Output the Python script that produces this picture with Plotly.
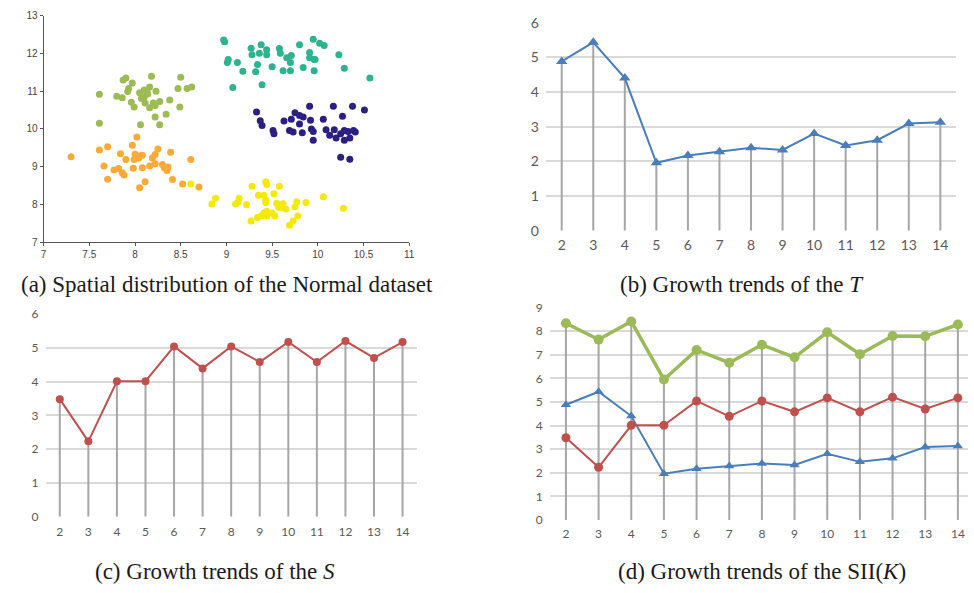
import plotly.graph_objects as go

# ---------------- data ----------------
# (a) scatter clusters
teal_x = [8.97, 8.98, 9.02, 9.01, 9.12, 9.07, 9.18, 9.27, 9.28, 9.38, 9.44, 9.36, 9.44, 9.34, 9.32, 9.39,
          9.50, 9.58, 9.59, 9.62, 9.70, 9.66, 9.71, 9.70, 9.80, 9.84, 9.91, 9.91, 9.96, 9.97, 9.95, 10.02,
          10.07, 9.96, 10.23, 10.29, 10.57]
teal_y = [12.36, 12.31, 11.84, 11.76, 11.76, 11.10, 11.53, 12.14, 11.97, 12.23, 12.10, 12.01, 11.97, 11.71,
          11.52, 11.17, 11.65, 12.13, 12.01, 11.54, 11.54, 11.89, 11.95, 11.76, 12.23, 11.63, 12.03, 11.89,
          11.84, 11.84, 12.38, 12.27, 12.21, 11.54, 11.97, 11.61, 11.35]

olive_x = [7.61, 7.61, 7.80, 7.86, 7.87, 7.90, 7.93, 7.97, 7.96, 7.99, 7.92, 8.05, 8.07, 8.10, 8.13, 8.06,
           8.10, 8.11, 8.16, 8.20, 8.18, 8.16, 8.22, 8.23, 8.22, 8.27, 8.27, 8.34, 8.38, 8.47, 8.49, 8.50,
           8.57, 8.62, 8.14]
olive_y = [10.92, 10.15, 10.87, 10.83, 11.30, 11.35, 11.07, 11.22, 10.71, 10.58, 10.99, 10.96, 10.81, 11.03,
           10.99, 10.11, 10.85, 10.69, 11.11, 10.69, 11.40, 10.56, 10.62, 11.00, 10.32, 10.73, 10.11, 10.39,
           10.77, 11.07, 10.58, 11.37, 11.07, 11.11, 10.93]

navy_x = [9.33, 9.37, 9.39, 9.51, 9.52, 9.63, 9.71, 9.75, 9.80, 9.84, 9.69, 9.73, 9.80, 9.83, 9.91, 9.92,
          9.93, 9.95, 9.95, 10.06, 10.09, 10.17, 10.13, 10.18, 10.20, 10.25, 10.27, 10.29, 10.29, 10.33,
          10.35, 10.38, 10.39, 10.41, 10.51, 10.25, 10.35]
navy_y = [10.45, 10.22, 10.09, 9.96, 9.87, 10.21, 10.26, 10.43, 10.36, 10.32, 9.96, 9.92, 10.13, 9.90, 10.60,
          10.23, 10.00, 9.93, 9.70, 10.26, 9.98, 10.60, 9.83, 9.98, 9.76, 9.87, 10.34, 9.96, 9.70, 9.93,
          9.76, 10.60, 9.96, 9.92, 10.50, 9.25, 9.20]

orange_x = [7.30, 7.61, 7.70, 7.66, 7.70, 7.77, 7.82, 7.84, 7.86, 7.88, 7.90, 7.97, 7.98, 7.99, 8.00, 8.02,
            8.04, 8.05, 8.08, 8.05, 8.08, 8.11, 8.16, 8.19, 8.22, 8.25, 8.22, 8.30, 8.32, 8.35, 8.36, 8.39,
            8.41, 8.52, 8.61, 8.70]
orange_y = [9.26, 9.44, 9.53, 9.02, 8.67, 8.91, 8.95, 9.34, 8.84, 8.78, 9.19, 9.57, 8.96, 9.19, 9.33, 9.79,
            9.23, 9.28, 9.30, 8.44, 8.97, 8.60, 9.02, 9.23, 9.32, 9.47, 9.08, 9.06, 8.97, 8.90, 8.99, 9.38,
            8.66, 8.54, 9.19, 8.46]

yellow_x = [8.61, 8.84, 8.88, 9.10, 9.14, 9.13, 9.22, 9.27, 9.28, 9.34, 9.35, 9.41, 9.43, 9.44, 9.43, 9.38,
            9.41, 9.44, 9.44, 9.43, 9.50, 9.52, 9.53, 9.58, 9.55, 9.57, 9.59, 9.62, 9.65, 9.69, 9.73, 9.75,
            9.77, 9.78, 9.87, 10.06, 10.28]
yellow_y = [8.54, 8.01, 8.16, 8.01, 8.16, 8.07, 7.99, 7.56, 8.48, 7.65, 8.24, 8.24, 8.60, 8.53, 8.05, 7.69,
            7.77, 7.69, 7.82, 8.11, 7.77, 8.28, 7.69, 8.48, 8.03, 7.93, 7.91, 8.02, 7.88, 7.45, 7.56, 7.94,
            8.07, 7.69, 8.05, 8.20, 7.90]

# (b)-(d) growth trends
K = [2, 3, 4, 5, 6, 7, 8, 9, 10, 11, 12, 13, 14]
T_vals = [4.88, 5.43, 4.40, 1.96, 2.17, 2.28, 2.39, 2.33, 2.80, 2.46, 2.61, 3.09, 3.13]
S_vals = [3.48, 2.23, 4.01, 4.01, 5.04, 4.39, 5.04, 4.58, 5.17, 4.58, 5.20, 4.70, 5.17]
SII_vals = [8.33, 7.64, 8.41, 5.95, 7.20, 6.66, 7.42, 6.89, 7.95, 7.02, 7.79, 7.78, 8.28]

y_ticks_a = [7, 8, 9, 10, 11, 12, 13]
x_ticks_a = [7, 7.5, 8, 8.5, 9, 9.5, 10, 10.5, 11]

captions = ["(a) Spatial distribution of the Normal dataset",
            "(b) Growth trends of the <i>T</i>",
            "(c) Growth trends of the <i>S</i>",
            "(d) Growth trends of the SII(<i>K</i>)"]

# ---------------- figure ----------------
W, H = 974, 593
fig = go.Figure()

clusters = [(teal_x, teal_y, "#2db38f"), (olive_x, olive_y, "#9cbb55"), (navy_x, navy_y, "#2c1e82"),
            (orange_x, orange_y, "#fbaa38"), (yellow_x, yellow_y, "#f4ea0a")]
for cx, cy, col in clusters:
    fig.add_trace(go.Scatter(x=cx, y=cy, mode="markers", xaxis="x", yaxis="y",
                             marker=dict(size=7, color=col, line=dict(width=0)), showlegend=False))


def drops(xs, tops):
    dx, dy = [], []
    for x, t in zip(xs, tops):
        dx += [x, x, None]
        dy += [0, t, None]
    return dx, dy


GRAY = "#a6a6a6"
BLUE = "#4a7ebb"
RED = "#c0504d"
GREEN = "#9bbb59"

# (b)
dx, dy = drops(K, T_vals)
fig.add_trace(go.Scatter(x=dx, y=dy, mode="lines", line=dict(color=GRAY, width=2), xaxis="x2", yaxis="y2",
                         showlegend=False))
fig.add_trace(go.Scatter(x=K, y=T_vals, mode="lines+markers", xaxis="x2", yaxis="y2",
                         line=dict(color=BLUE, width=2),
                         marker=dict(symbol="triangle-up", size=10, color=BLUE), showlegend=False))
# (c)
dx, dy = drops(K, S_vals)
fig.add_trace(go.Scatter(x=dx, y=dy, mode="lines", line=dict(color=GRAY, width=2), xaxis="x3", yaxis="y3",
                         showlegend=False))
fig.add_trace(go.Scatter(x=K, y=S_vals, mode="lines+markers", xaxis="x3", yaxis="y3",
                         line=dict(color=RED, width=2),
                         marker=dict(symbol="circle", size=8, color=RED), showlegend=False))
# (d)
dx, dy = drops(K, SII_vals)
fig.add_trace(go.Scatter(x=dx, y=dy, mode="lines", line=dict(color=GRAY, width=2), xaxis="x4", yaxis="y4",
                         showlegend=False))
fig.add_trace(go.Scatter(x=K, y=T_vals, mode="lines+markers", xaxis="x4", yaxis="y4",
                         line=dict(color=BLUE, width=2),
                         marker=dict(symbol="triangle-up", size=9, color=BLUE), showlegend=False))
fig.add_trace(go.Scatter(x=K, y=S_vals, mode="lines+markers", xaxis="x4", yaxis="y4",
                         line=dict(color=RED, width=2),
                         marker=dict(symbol="circle", size=9, color=RED), showlegend=False))
fig.add_trace(go.Scatter(x=K, y=SII_vals, mode="lines+markers", xaxis="x4", yaxis="y4",
                         line=dict(color=GREEN, width=3.5),
                         marker=dict(symbol="circle", size=10, color=GREEN), showlegend=False))


def dom_x(a, b):
    return [a / W, b / W]


def dom_y(top, bottom):
    return [1 - bottom / H, 1 - top / H]


axis_a_font = dict(family="Liberation Sans, Arial", size=10, color="#444444")
xl_font_b = dict(family="Lato, Open Sans", size=14, color="#595959")
xl_font_c = dict(family="Lato, Open Sans", size=12, color="#595959")
GRID = "#d9d9d9"

fig.update_layout(
    width=W, height=H, margin=dict(l=0, r=0, t=0, b=0),
    paper_bgcolor="white", plot_bgcolor="white",
    xaxis=dict(domain=dom_x(41, 410), range=[7, 11], tickvals=x_ticks_a, ticktext=[f"{v:g}" for v in x_ticks_a],
               showline=True, linecolor="#555555", linewidth=1, ticks="outside", ticklen=3, tickcolor="#555555",
               showgrid=False, zeroline=False, tickfont=axis_a_font, anchor="y"),
    yaxis=dict(domain=dom_y(7, 240), range=[7, 13], tickvals=y_ticks_a,
               showline=True, linecolor="#555555", linewidth=1, ticks="outside", ticklen=3, tickcolor="#555555",
               showgrid=False, zeroline=False, tickfont=axis_a_font, anchor="x"),
    xaxis2=dict(domain=dom_x(548, 962), range=[1.5, 14.5], tickvals=K, showgrid=False, zeroline=False,
                showline=False, tickfont=xl_font_b, anchor="y2", ticklabelstandoff=4),
    yaxis2=dict(domain=dom_y(14, 228.3), range=[0, 6], dtick=1, showgrid=True, gridcolor=GRID, gridwidth=1.5,
                zeroline=False, showline=False, tickfont=xl_font_b, anchor="x2", ticklabelstandoff=6),
    xaxis3=dict(domain=dom_x(42.9, 417.7), range=[1.5, 14.5], tickvals=K, showgrid=False, zeroline=False,
                showline=False, tickfont=xl_font_c, anchor="y3", ticklabelstandoff=6),
    yaxis3=dict(domain=dom_y(314, 522.7), range=[0, 6], dtick=1, showgrid=True, gridcolor=GRID, gridwidth=1.5,
                zeroline=False, showline=False, tickfont=xl_font_c, anchor="x3", ticklabelstandoff=6),
    xaxis4=dict(domain=dom_x(551.7, 974), range=[1.5, 14.31], tickvals=K, showgrid=False, zeroline=False,
                showline=False, tickfont=xl_font_c, anchor="y4", ticklabelstandoff=5),
    yaxis4=dict(domain=dom_y(307.3, 526), range=[0, 9], dtick=1, showgrid=True, gridcolor=GRID, gridwidth=1.5,
                zeroline=False, showline=False, tickfont=xl_font_c, anchor="x4", ticklabelstandoff=6),
)

cap_pos = [(226, 284), (746, 284), (214, 579), (766, 579)]
for txt, (cx, cy) in zip(captions, cap_pos):
    fig.add_annotation(text=txt, x=cx / W, y=1 - cy / H, xref="paper", yref="paper", showarrow=False,
                       xanchor="center", yanchor="middle",
                       font=dict(family="Liberation Serif, Times New Roman", size=23, color="#1a1a1a"))

fig.write_html("out.html", config={"displayModeBar": False},
               post_script="document.body.style.margin='0';document.body.style.overflow='hidden';")
